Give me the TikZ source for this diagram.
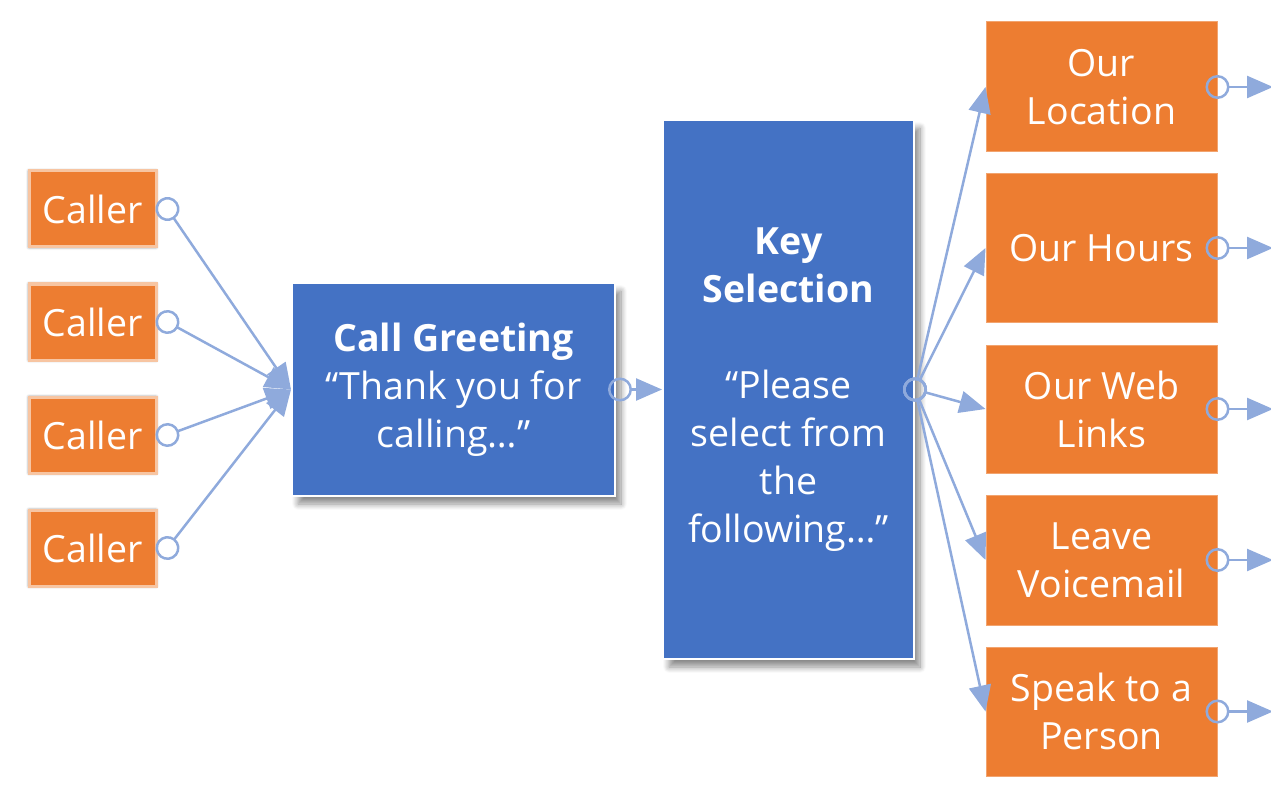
\documentclass[tikz,border=0pt]{standalone}
\usepackage{fontspec}
\setmainfont{Open Sans}
\usepackage{tikz}
\usetikzlibrary{arrows.meta,positioning,shadows,shadows.blur}
\usepackage{xcolor}
\definecolor{ivrorange}{RGB}{237,125,49}
\definecolor{ivrblue}{RGB}{68,114,196}
\definecolor{ivrlink}{RGB}{143,170,220}
\newcommand{\ivrfont}{\fontsize{37.5}{48}\selectfont}
\tikzstyle{link} = [line width=2.5pt, color=ivrlink, {Circle[open,length=24pt]}-{Triangle[length=26pt,width=22pt]}, shorten <=-12pt]
\tikzstyle{caller} = [rectangle, minimum width=127pt, minimum height=76pt, fill=ivrorange, draw=ivrorange!45!white, line width=3pt, text=white, font=\ivrfont, blur shadow={shadow xshift=0pt, shadow yshift=0pt, shadow blur radius=3pt, shadow blur steps=6, shadow opacity=60, shadow blur extra rounding=0pt, fill=ivrorange}]
\tikzstyle{option} = [rectangle, minimum width=231pt, minimum height=130pt, fill=ivrorange, draw=ivrorange!70!white, line width=1pt, text=white, align=center, font=\ivrfont]
\tikzstyle{stage} = [rectangle, fill=ivrblue, draw=white, line width=2pt, text=white, align=center, font=\ivrfont, blur shadow={shadow xshift=6pt, shadow yshift=-8pt, shadow blur radius=6pt, shadow blur steps=10, shadow opacity=45}]

\begin{document}
\begin{tikzpicture}[x=1pt, y=-1pt]
\useasboundingbox (0,0) rectangle (1271,794);

% Callers
\node (caller1) [caller] at (92.5,209) {Caller};
\node (caller2) [caller, below=34pt of caller1] {Caller};
\node (caller3) [caller, below=34pt of caller2] {Caller};
\node (caller4) [caller, below=34pt of caller3] {Caller};

% Blue stages
\node (greeting) [stage, minimum width=323pt, minimum height=213pt] at (453.5,389.5) {\textbf{Call Greeting}\\“Thank you for\\calling…”};
\node (keysel) [stage, minimum width=251pt, minimum height=539pt, right=46pt of greeting] {\textbf{Key}\\\textbf{Selection}\\[48pt]“Please\\select from\\the\\following…”};

% Options
\node (location) [option] at (1101.5,87) {Our\\Location};
\node (hours) [option, minimum height=148pt, below=21pt of location] {Our Hours};
\node (weblinks) [option, minimum height=128pt, below=22pt of hours] {Our Web\\Links};
\node (voicemail) [option, below=21pt of weblinks] {Leave\\Voicemail};
\node (person) [option, minimum height=129pt, below=21pt of voicemail] {Speak to a\\Person};
\coordinate (rim) at (1273,0);

% Connectors
\draw[link] ([xshift=10pt]caller1.east) -- (greeting.west);
\draw[link] ([xshift=10pt]caller2.east) -- (greeting.west);
\draw[link] ([xshift=10pt]caller3.east) -- (greeting.west);
\draw[link] ([xshift=10pt]caller4.east) -- (greeting.west);
\draw[link] ([xshift=4pt]greeting.east) -- (keysel.west);

\draw[link] (keysel.east) -- (location.west);
\draw[link] (keysel.east) -- (hours.west);
\draw[link] (keysel.east) -- (weblinks.west);
\draw[link] (keysel.east) -- (voicemail.west);
\draw[link] (keysel.east) -- (person.west);

\draw[link] (location.east) -- (location.east -| rim);
\draw[link] (hours.east) -- (hours.east -| rim);
\draw[link] (weblinks.east) -- (weblinks.east -| rim);
\draw[link] (voicemail.east) -- (voicemail.east -| rim);
\draw[link] (person.east) -- (person.east -| rim);
\end{tikzpicture}
\end{document}
